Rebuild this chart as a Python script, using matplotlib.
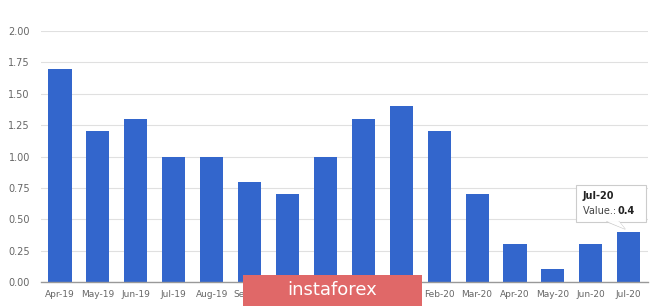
import matplotlib.pyplot as plt
from matplotlib.patches import Rectangle, Polygon
from matplotlib.lines import Line2D

months = ['Apr-19', 'May-19', 'Jun-19', 'Jul-19', 'Aug-19', 'Sep-19', 'Oct-19', 'Nov-19',
          'Dec-19', 'Jan-20', 'Feb-20', 'Mar-20', 'Apr-20', 'May-20', 'Jun-20', 'Jul-20']
values = [1.7, 1.2, 1.3, 1.0, 1.0, 0.8, 0.7, 1.0, 1.3, 1.4, 1.2, 0.7, 0.3, 0.1, 0.3, 0.4]
yticks = [0, 0.25, 0.5, 0.75, 1.0, 1.25, 1.5, 1.75, 2.0]

fig = plt.figure(figsize=(6.65, 3.06), dpi=100)
ax = fig.add_axes([0.0617, 0.0784, 0.9123, 0.8203])

x = range(len(months))
ax.bar(x, values, width=0.61, color='#3366cc', zorder=2)

ax.set_xlim(-0.5, len(months) - 0.5)
ax.set_ylim(0, 2.0)
ax.set_yticks(yticks)
ax.set_yticklabels(['%.2f' % v for v in yticks])
ax.set_xticks(list(x))
ax.set_xticklabels(months)
ax.tick_params(axis='both', length=0, colors='#666666', labelsize=6.5)
ax.tick_params(axis='y', pad=8, labelsize=7)
ax.tick_params(axis='x', pad=6)
ax.grid(axis='y', color='#e0e0e0', linewidth=0.8, zorder=0)
for s in ['top', 'right', 'left']:
    ax.spines[s].set_visible(False)
ax.spines['bottom'].set_color('#999999')
ax.spines['bottom'].set_linewidth(1.0)

# tooltip for last bar (pixel coords from bottom-left)
last = len(months) - 1
tip = Rectangle((576, 84), 70, 37, transform=None, facecolor='white',
                edgecolor='#cccccc', linewidth=0.8, zorder=5)
fig.patches.append(tip)
tail = Polygon([(607, 84.6), (619, 84.6), (625, 77)], closed=True,
               transform=None, facecolor='white', edgecolor='none', zorder=6)
fig.patches.append(tail)
fig.lines.append(Line2D([607, 625, 619], [84.3, 77, 84.3], transform=None,
                        color='#cccccc', linewidth=0.8, zorder=6))
fig.text(583 / 665, 1 - 196 / 306, months[last], fontsize=7, fontweight='bold',
         color='#222222', va='center', zorder=7)
fig.text(583 / 665, 1 - 211 / 306, 'Value.: ', fontsize=7, color='#444444',
         va='center', zorder=7)
fig.text(618 / 665, 1 - 211 / 306, str(values[last]), fontsize=7, fontweight='bold',
         color='#222222', va='center', zorder=7)

# watermark
wm = Rectangle((243, 0), 179, 31, transform=None, facecolor='#e06868',
               edgecolor='none', zorder=8)
fig.patches.append(wm)
fig.text(332 / 665, 1 - 290 / 306, 'instaforex', fontsize=13, color='white',
         ha='center', va='center', zorder=9)

fig.savefig('out.png', dpi=100)
